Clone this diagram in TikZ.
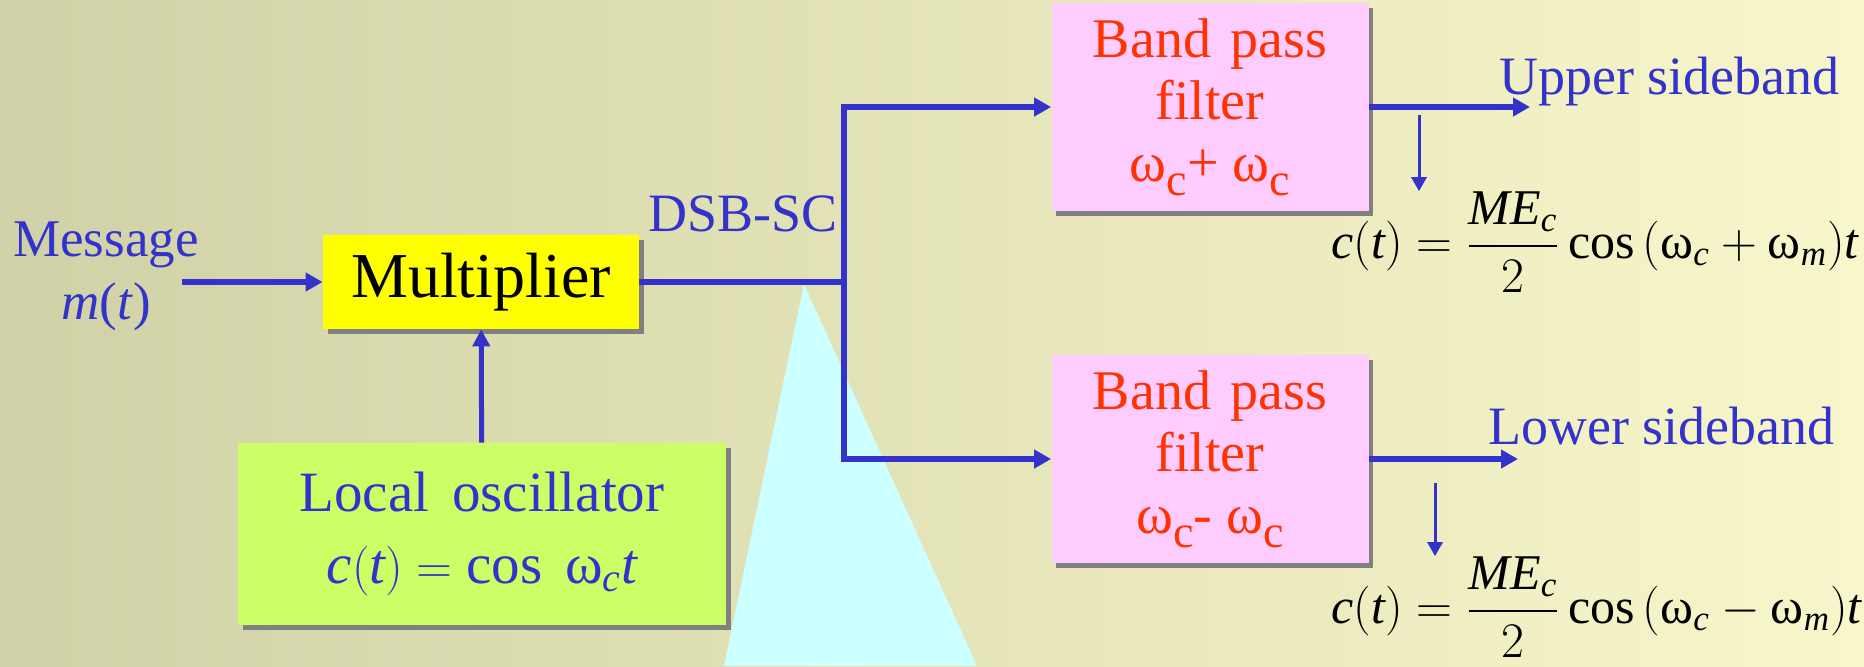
\documentclass[tikz,border=0pt]{standalone}
\usepackage{amsmath}
\usepackage{fontspec}
\setmainfont{Liberation Serif}
\usetikzlibrary{arrows.meta,positioning,shadows}
\definecolor{sigblue}{HTML}{3333CC}
\definecolor{filterred}{HTML}{FF3300}
\definecolor{filterpink}{HTML}{FFCCFF}
\definecolor{mixyellow}{HTML}{FFFF00}
\definecolor{oscgreen}{HTML}{CCFF66}
\definecolor{calloutcyan}{HTML}{CCFFFF}
\definecolor{bgleft}{HTML}{D0D1A6}
\definecolor{bgright}{HTML}{F8F7CB}

\begin{document}
\begin{tikzpicture}[x=0.5pt,y=-0.5pt,
  block/.style={inner sep=0pt,align=center,general shadow={fill=gray,shadow xshift=2.3pt,shadow yshift=-2.3pt}},
  wire/.style={draw=sigblue,line width=3pt},
  wirearrow/.style={wire,-{Triangle[length=8.5pt,width=9pt]}},
  taparrow/.style={draw=sigblue,line width=1.5pt,-{Triangle[length=7pt,width=7.5pt]}},
  lbl/.style={text=sigblue,inner sep=0pt,align=center,font=\fontsize{27}{31.5}\selectfont},
  formula/.style={inner sep=0pt,font=\fontsize{25}{30}\selectfont}]
\useasboundingbox (0,0) rectangle (1864,666);
\shade[left color=bgleft,right color=bgright] (0,0) rectangle (1864,666);
\fill[calloutcyan] (804,284) -- (724,666) -- (977,666) -- cycle;

% blocks
\node[block,fill=mixyellow,minimum width=158pt,minimum height=47pt,font=\fontsize{32}{38}\selectfont] (mult) at (481,282) {Multiplier};
\node[block,fill=oscgreen,minimum width=244pt,minimum height=91pt,text=sigblue,font=\fontsize{28.5}{36}\selectfont] (osc) at (482,534) {Local\hspace{0.4em}oscillator\\$\mathit{c}(\mathit{t}) = \cos\ \text{ω}_{\mathit{c}}\mathit{t}$};
\node[block,fill=filterpink,minimum width=158.5pt,minimum height=104pt,text=filterred,font=\fontsize{28}{31}\selectfont] (bpfU) at (1210,107) {Band\hspace{0.35em}pass\\filter\\ω\raisebox{-0.25em}{\fontsize{23}{23}\selectfont c}+ ω\raisebox{-0.25em}{\fontsize{23}{23}\selectfont c}};
\node[block,fill=filterpink,minimum width=158.5pt,minimum height=104pt,text=filterred,font=\fontsize{28}{31}\selectfont] (bpfL) at (1210,459) {Band\hspace{0.35em}pass\\filter\\ω\raisebox{-0.25em}{\fontsize{23}{23}\selectfont c}- ω\raisebox{-0.25em}{\fontsize{23}{23}\selectfont c}};

% labels
\node[lbl,font=\fontsize{26.5}{31.5}\selectfont] (msg) at (106,276) {Message\\\textit{m}(\textit{t})};
\node[lbl,anchor=base] (dsb) at (743,231) {DSB-SC};
\node[lbl,anchor=base west] (usb) at (1499,94) {Upper sideband};
\node[lbl,anchor=base west] (lsb) at (1488,444) {Lower sideband};
\node[formula,anchor=base west] (fU) at (1331,258) {$\mathit{c}(\mathit{t}) = \dfrac{\mathit{ME}_{\mathit{c}}}{2}\cos\,(\text{ω}_{\mathit{c}} + \text{ω}_{\mathit{m}})\mathit{t}$};
\node[formula,anchor=base west] (fL) at (1331,623) {$\mathit{c}(\mathit{t}) = \dfrac{\mathit{ME}_{\mathit{c}}}{2}\cos\,(\text{ω}_{\mathit{c}} - \text{ω}_{\mathit{m}})\mathit{t}$};

% connectors
\coordinate (split) at (844,282);
\coordinate (uOut) at (1530,107);
\coordinate (lOut) at (1518,459);
\coordinate (uTap) at (1419,115);
\coordinate (lTap) at (1435,483);
\draw[wirearrow] ([xshift=-8.5pt]msg.east |- mult.west) -- (mult.west);
\draw[wire,line width=2.5pt,-{Triangle[length=8.5pt,width=8.5pt]}] (osc) -- (mult);
\draw[wire] (mult.east) -- (split);
\draw[wirearrow] (split) |- (bpfU.west);
\draw[wirearrow] (split) |- (bpfL.west);
\draw[wirearrow] (bpfU.east) -- (uOut);
\draw[wirearrow] (bpfL.east) -- (lOut);
\draw[taparrow] (uTap) -- (uTap |- fU.north);
\draw[taparrow] (lTap) -- (lTap |- fL.north);
\end{tikzpicture}
\end{document}
